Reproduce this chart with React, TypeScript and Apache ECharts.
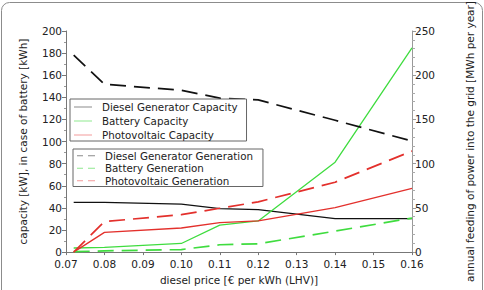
import React, { useEffect, useRef } from "react";
import * as echarts from "echarts";

const prices = [0.072, 0.08, 0.1, 0.11, 0.12, 0.14, 0.16];
const dieselCapacity = [45, 45, 43.4, 39.4, 38.5, 30.2, 30.2];
const batteryCapacity = [3.7, 4.3, 7.8, 24.4, 28.2, 81.3, 184.7];
const pvCapacity = [0, 17.8, 21.8, 26.7, 28.2, 40.2, 57.7];
const dieselGeneration = [222.7, 189.7, 183, 174, 172, 149, 125.5];
const batteryGeneration = [0.5, 1.4, 2.9, 8.3, 9.4, 23.7, 38.5];
const pvGeneration = [0, 34.5, 42.3, 49.6, 56.8, 79, 114.2];

const capacityNames = ["Diesel Generator Capacity", "Battery Capacity", "Photovoltaic Capacity"];
const generationNames = ["Diesel Generator Generation", "Battery Generation", "Photovoltaic Generation"];

const BLACK = "#111111";
const GREEN = "#3fdc3f";
const RED = "#e3302c";
const LEGEND_COLORS = ["#8a8a8a", "#8fe88f", "#f29a9a"];
const FONT = "DejaVu Sans";

const pairs = (ys: number[]) => prices.map((x, i) => [x, ys[i]]);

export default function App() {
  const ref = useRef<HTMLDivElement>(null);
  useEffect(() => {
    if (!ref.current) return;
    const chart = echarts.init(ref.current, null, { renderer: "svg" });
    const dash = [16, 8];
    const solidSeries = (name: string, ys: number[], color: string) => ({
      name,
      type: "line",
      yAxisIndex: 0,
      data: pairs(ys),
      symbol: "none",
      lineStyle: { color, width: 1.3 },
      itemStyle: { color },
    });
    const dashedSeries = (name: string, ys: number[], color: string) => ({
      name,
      type: "line",
      yAxisIndex: 1,
      data: pairs(ys),
      symbol: "none",
      lineStyle: { color, width: 1.7, type: dash },
      itemStyle: { color },
    });
    const legendBase = {
      orient: "vertical",
      borderColor: "#666",
      borderWidth: 1,
      itemWidth: 18,
      itemHeight: 1.2,
      selectedMode: false,
      backgroundColor: "#fff",
    };
    chart.setOption({
      animation: false,
      backgroundColor: "#fff",
      textStyle: { fontFamily: FONT },
      grid: { left: 66, right: 72, top: 24, bottom: 34 },
      graphic: [
        {
          type: "rect",
          shape: { x: 1.5, y: 2.5, width: 481, height: 300, r: 8 },
          style: { fill: "none", stroke: "#8c8c8c", lineWidth: 1 },
          silent: true,
        },
      ],
      legend: [
        {
          ...legendBase,
          left: 70,
          top: 99,
          itemGap: 2,
          padding: [2, 9, 0, 4],
          textStyle: { fontFamily: FONT, fontSize: 10.3, color: "#222", padding: [0, 0, 0, 5], lineHeight: 12 },
          data: capacityNames.map((n, i) => ({
            name: n,
            icon: "path://M0,0h18v1h-18z",
            itemStyle: { color: LEGEND_COLORS[i] },
          })),
        },
        {
          ...legendBase,
          left: 73,
          top: 149,
          itemGap: 1,
          padding: [1, 10, 0, 4],
          textStyle: { fontFamily: FONT, fontSize: 10.3, color: "#222", padding: [0, 0, 0, 5], lineHeight: 11.5 },
          data: generationNames.map((n, i) => ({
            name: n,
            icon: "path://M0,0h6v1h-6zM11,0h7v1h-7z",
            itemStyle: { color: LEGEND_COLORS[i] },
          })),
        },
      ],
      xAxis: {
        type: "value",
        min: 0.07,
        max: 0.16,
        interval: 0.01,
        name: "diesel price [€ per kWh (LHV)]",
        nameLocation: "middle",
        nameGap: 19,
        nameTextStyle: { fontFamily: FONT, fontSize: 10.5, color: "#222" },
        axisLine: { show: true, lineStyle: { color: "#777" } },
        axisTick: { show: true, length: 3, lineStyle: { color: "#777" } },
        splitLine: { show: false },
        axisLabel: {
          fontFamily: FONT,
          fontSize: 10.5,
          color: "#222",
          margin: 6,
          formatter: (v: number) => v.toFixed(2),
        },
      },
      yAxis: [
        {
          type: "value",
          min: 0,
          max: 200,
          interval: 20,
          name: "capacity [kW], in case of battery [kWh]",
          nameLocation: "middle",
          nameGap: 38,
          nameTextStyle: { fontFamily: FONT, fontSize: 10.5, color: "#222" },
          axisLine: { show: true, lineStyle: { color: "#777" } },
          axisTick: { show: true, length: 4, lineStyle: { color: "#777" } },
          minorTick: { show: true, splitNumber: 2, length: 2, lineStyle: { color: "#999" } },
          splitLine: { show: false },
          axisLabel: { fontFamily: FONT, fontSize: 10.5, color: "#222", margin: 4 },
        },
        {
          type: "value",
          min: 0,
          max: 250,
          interval: 50,
          position: "right",
          name: "annual feeding of power into the grid [MWh per year]",
          nameLocation: "middle",
          nameGap: 52,
          nameRotate: 90,
          nameTextStyle: { fontFamily: FONT, fontSize: 10.5, color: "#222" },
          axisLine: { show: true, lineStyle: { color: "#999" } },
          axisTick: { show: true, length: 4, lineStyle: { color: "#999" } },
          minorTick: { show: true, splitNumber: 5, length: 3, lineStyle: { color: "#aaa" } },
          splitLine: { show: false },
          axisLabel: { fontFamily: FONT, fontSize: 10.5, color: "#222", margin: 3 },
        },
      ],
      series: [
        solidSeries(capacityNames[0], dieselCapacity, BLACK),
        solidSeries(capacityNames[1], batteryCapacity, GREEN),
        solidSeries(capacityNames[2], pvCapacity, RED),
        dashedSeries(generationNames[0], dieselGeneration, BLACK),
        dashedSeries(generationNames[1], batteryGeneration, GREEN),
        dashedSeries(generationNames[2], pvGeneration, RED),
      ],
    });
    return () => chart.dispose();
  }, []);
  return (
    <div
      ref={ref}
      style={{ position: "absolute", left: 0, top: 0, width: 484, height: 290 }}
    />
  );
}
